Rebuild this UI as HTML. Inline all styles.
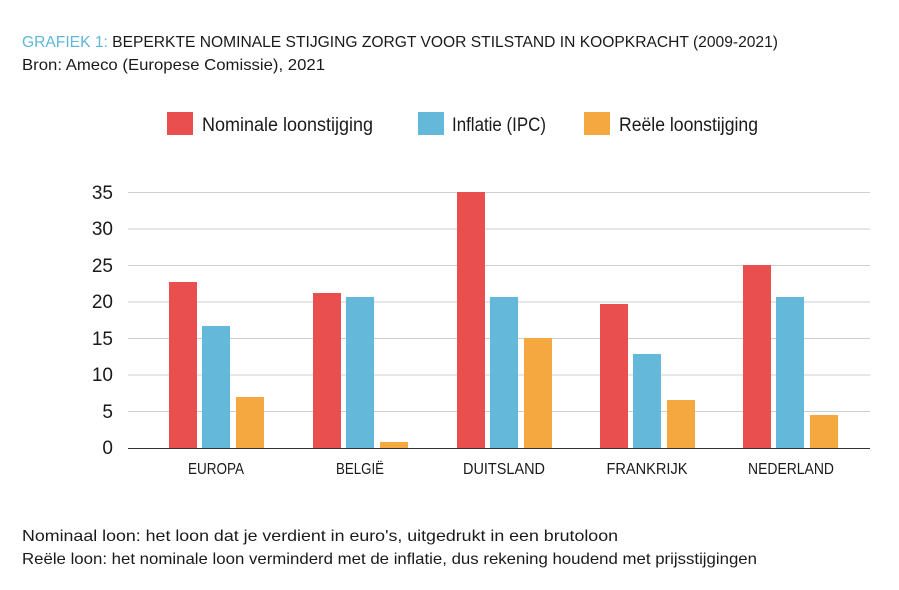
<!DOCTYPE html>
<html><head><meta charset="utf-8"><style>
html,body{margin:0;padding:0;background:#fff;}
svg{display:block;font-family:"Liberation Sans",sans-serif;}
</style></head><body>
<svg width="899" height="590" viewBox="0 0 899 590" xmlns="http://www.w3.org/2000/svg">
<text x="22" y="47" font-size="16" textLength="756" lengthAdjust="spacingAndGlyphs" fill="#1a1a1a"><tspan fill="#5fb6d8">GRAFIEK 1: </tspan>BEPERKTE NOMINALE STIJGING ZORGT VOOR STILSTAND IN KOOPKRACHT (2009-2021)</text>
<text x="22" y="70" font-size="16" textLength="303" lengthAdjust="spacingAndGlyphs" fill="#1a1a1a">Bron: Ameco (Europese Comissie), 2021</text>

<rect x="167" y="112" width="26" height="23" fill="#e94f4f"/>
<text x="202" y="131" font-size="19" textLength="171" lengthAdjust="spacingAndGlyphs" fill="#1a1a1a">Nominale loonstijging</text>
<rect x="418" y="112" width="26" height="23" fill="#64b8d9"/>
<text x="452" y="131" font-size="19" textLength="94" lengthAdjust="spacingAndGlyphs" fill="#1a1a1a">Inflatie (IPC)</text>
<rect x="584" y="112" width="26" height="23" fill="#f5a83f"/>
<text x="619" y="131" font-size="19" textLength="139" lengthAdjust="spacingAndGlyphs" fill="#1a1a1a">Reële loonstijging</text>

<g stroke="#cfcfcf" stroke-width="1">
<line x1="128" y1="192.5" x2="870" y2="192.5"/>
<line x1="128" y1="229" x2="870" y2="229"/>
<line x1="128" y1="265.5" x2="870" y2="265.5"/>
<line x1="128" y1="302" x2="870" y2="302"/>
<line x1="128" y1="338.5" x2="870" y2="338.5"/>
<line x1="128" y1="375" x2="870" y2="375"/>
<line x1="128" y1="411.5" x2="870" y2="411.5"/>
</g>
<g font-size="19" fill="#1a1a1a" text-anchor="end">
<text x="113" y="199">35</text><text x="113" y="235">30</text><text x="113" y="272">25</text><text x="113" y="308">20</text><text x="113" y="345">15</text><text x="113" y="381">10</text><text x="113" y="418">5</text><text x="113" y="454">0</text>
</g>

<g>
<rect x="169" y="282" width="28" height="166" fill="#e94f4f"/>
<rect x="202" y="326" width="28" height="122" fill="#64b8d9"/>
<rect x="236" y="397" width="28" height="51" fill="#f5a83f"/>

<rect x="313" y="293" width="28" height="155" fill="#e94f4f"/>
<rect x="346" y="297" width="28" height="151" fill="#64b8d9"/>
<rect x="380" y="442" width="28" height="6" fill="#f5a83f"/>

<rect x="457" y="192" width="28" height="256" fill="#e94f4f"/>
<rect x="490" y="297" width="28" height="151" fill="#64b8d9"/>
<rect x="524" y="338" width="28" height="110" fill="#f5a83f"/>

<rect x="600" y="304" width="28" height="144" fill="#e94f4f"/>
<rect x="633" y="354" width="28" height="94" fill="#64b8d9"/>
<rect x="667" y="400" width="28" height="48" fill="#f5a83f"/>

<rect x="743" y="265" width="28" height="183" fill="#e94f4f"/>
<rect x="776" y="297" width="28" height="151" fill="#64b8d9"/>
<rect x="810" y="415" width="28" height="33" fill="#f5a83f"/>
</g>
<line x1="128" y1="448.5" x2="870" y2="448.5" stroke="#333" stroke-width="1"/>

<g font-size="16" fill="#1a1a1a" text-anchor="middle">
<text x="216" y="474" textLength="56" lengthAdjust="spacingAndGlyphs">EUROPA</text>
<text x="360" y="474" textLength="48" lengthAdjust="spacingAndGlyphs">BELGIË</text>
<text x="504" y="474" textLength="82" lengthAdjust="spacingAndGlyphs">DUITSLAND</text>
<text x="647" y="474" textLength="81" lengthAdjust="spacingAndGlyphs">FRANKRIJK</text>
<text x="791" y="474" textLength="86" lengthAdjust="spacingAndGlyphs">NEDERLAND</text>
</g>

<text x="22" y="541" font-size="16" textLength="596" lengthAdjust="spacingAndGlyphs" fill="#1a1a1a">Nominaal loon: het loon dat je verdient in euro's, uitgedrukt in een brutoloon</text>
<text x="22" y="564" font-size="16" textLength="735" lengthAdjust="spacingAndGlyphs" fill="#1a1a1a">Reële loon: het nominale loon verminderd met de inflatie, dus rekening houdend met prijsstijgingen</text>
</svg>
</body></html>
